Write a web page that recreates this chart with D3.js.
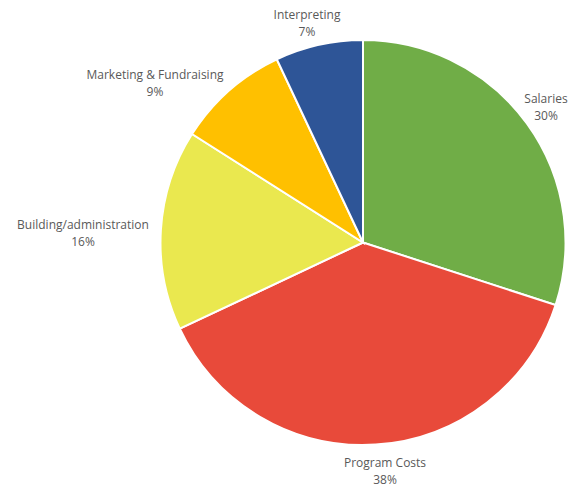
<!DOCTYPE html>
<html><head><meta charset="utf-8">
<script src="https://cdn.jsdelivr.net/npm/d3@7"></script>
<style>body{margin:0;background:#fff}</style>
</head><body>
<svg id="c" width="570" height="486"></svg>
<script>
const categories = ["Salaries","Program Costs","Building/administration","Marketing & Fundraising","Interpreting"];
const values = [30,38,16,9,7];
const colors = ["#70AD47","#E84A3A","#EAE84F","#FFC000","#2E5597"];
const labelPos = [[546,103],[385,467],[83,229],[155,79],[307,19]];

const svg = d3.select("#c");
const cx=363, cy=242.5, r=202.5;
const pie = d3.pie().sort(null).value(d=>d)(values);
const arc = d3.arc().innerRadius(0).outerRadius(r);
const g = svg.append("g").attr("transform",`translate(${cx},${cy})`);
g.selectAll("path").data(pie).join("path")
  .attr("d",arc).attr("fill",(d,i)=>colors[i])
  .attr("stroke","#fff").attr("stroke-width",2);

const lab = svg.append("g").attr("font-family","Open Sans, Liberation Sans, sans-serif")
  .attr("font-size","12px").attr("fill","#595959").attr("text-anchor","middle");
categories.forEach((c,i)=>{
  const t = lab.append("text").attr("x",labelPos[i][0]).attr("y",labelPos[i][1]);
  t.append("tspan").attr("x",labelPos[i][0]).text(c);
  t.append("tspan").attr("x",labelPos[i][0]).attr("dy",16.5).text(values[i]+"%");
});
</script>
</body></html>
